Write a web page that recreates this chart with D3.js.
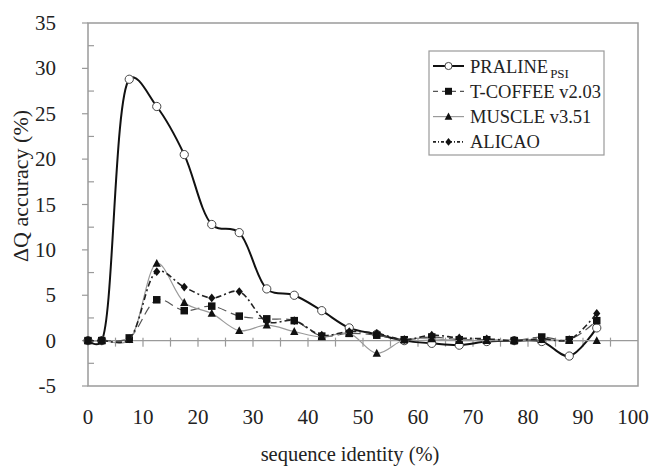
<!DOCTYPE html>
<html>
  <head>
    <title>Delta Q accuracy vs sequence identity</title>
    <script src="https://d3js.org/d3.v7.min.js" charset="utf-8"></script>
    <style>
      body {
        margin: 0;
        background: #fff;
      }
    </style>
  </head>
  <body>
    <svg></svg>

    <script>
      // sequence identity bins (%)
      const identity = [
        0, 2.5, 7.5, 12.5, 17.5, 22.5, 27.5, 32.5, 37.5, 42.5, 47.5, 52.5,
        57.5, 62.5, 67.5, 72.5, 77.5, 82.5, 87.5, 92.5,
      ];
      const praline = [
        0, 0, 28.8, 25.8, 20.5, 12.8, 11.9, 5.7, 5.0, 3.3, 1.4, 0.7, 0.0,
        -0.3, -0.5, -0.1, 0.0, -0.1, -1.7, 1.4,
      ];
      const tcoffee = [
        0, 0, 0.3, 4.5, 3.3, 3.8, 2.7, 2.4, 2.2, 0.5, 0.8, 0.6, 0.1, 0.4,
        0.1, 0.1, 0.0, 0.4, 0.1, 2.2,
      ];
      const muscle = [
        0, 0, 0.1, 8.5, 4.2, 3.0, 1.1, 1.7, 1.0, 0.4, 0.8, -1.4, 0.1, 0.2,
        0.0, 0.0, 0.0, 0.1, 0.0, 0.0,
      ];
      const alicao = [
        0, 0, 0.2, 7.6, 5.9, 4.7, 5.4, 2.1, 2.2, 0.6, 1.0, 0.8, 0.1, 0.6, 0.3,
        0.2, 0.0, 0.2, 0.1, 3.0,
      ];
      const xTicks = [0, 10, 20, 30, 40, 50, 60, 70, 80, 90, 100];
      const yTicks = [-5, 0, 5, 10, 15, 20, 25, 30, 35];

      const series = [
        { name: "PRALINE", sub: "PSI", values: praline, stroke: "#111", width: 2, dash: null, marker: "circle" },
        { name: "T-COFFEE v2.03", values: tcoffee, stroke: "#555", width: 1.2, dash: "9,5", marker: "square" },
        { name: "MUSCLE v3.51", values: muscle, stroke: "#9a9a9a", width: 1.2, dash: null, marker: "triangle" },
        { name: "ALICAO", values: alicao, stroke: "#222", width: 1.6, dash: "6,3,2,3", marker: "diamond" },
      ];

      const W = 660, H = 468;
      const margin = { top: 23, right: 22, bottom: 82, left: 88 };
      const serif = "'Liberation Serif', 'Times New Roman', 'DejaVu Serif', serif";

      const svg = d3.select("svg").attr("width", W).attr("height", H)
        .attr("font-family", serif);

      const x = d3.scaleLinear().domain([0, 100]).range([margin.left, W - margin.right]);
      const y = d3.scaleLinear().domain([-5, 35]).range([H - margin.bottom, margin.top]);

      const frame = "#9a9a9a";
      const ink = "#222";

      // plot frame
      svg.append("rect")
        .attr("x", x(0)).attr("y", y(35))
        .attr("width", x(100) - x(0)).attr("height", y(-5) - y(35))
        .attr("fill", "none").attr("stroke", frame).attr("stroke-width", 1.5);

      // y ticks: major outside, minor inside
      const yMinor = d3.range(-2.5, 35, 5);
      svg.append("g").selectAll("line").data(yTicks).join("line")
        .attr("x1", x(0) - 6).attr("x2", x(0))
        .attr("y1", (d) => y(d)).attr("y2", (d) => y(d))
        .attr("stroke", frame).attr("stroke-width", 1.2);
      svg.append("g").selectAll("line").data(yMinor).join("line")
        .attr("x1", x(0)).attr("x2", x(0) + 6)
        .attr("y1", (d) => y(d)).attr("y2", (d) => y(d))
        .attr("stroke", frame).attr("stroke-width", 1.2);
      svg.append("g").selectAll("text").data(yTicks).join("text")
        .attr("x", 56).attr("y", (d) => y(d) + 7)
        .attr("text-anchor", "end").attr("font-size", 21)
        .attr("font-family", serif).attr("fill", ink)
        .text((d) => d);

      // zero line with x ticks on it
      svg.append("line")
        .attr("x1", x(0)).attr("x2", x(100))
        .attr("y1", y(0)).attr("y2", y(0))
        .attr("stroke", frame).attr("stroke-width", 1.3);
      svg.append("g").selectAll("line").data(d3.range(5, 100, 5)).join("line")
        .attr("x1", (d) => x(d)).attr("x2", (d) => x(d))
        .attr("y1", y(0) - 3).attr("y2", y(0) + 6)
        .attr("stroke", frame).attr("stroke-width", 1.2);
      svg.append("g").selectAll("text").data(xTicks).join("text")
        .attr("x", (d) => x(d) - (d === 100 ? 5 : 0)).attr("y", 424)
        .attr("text-anchor", "middle").attr("font-size", 21)
        .attr("font-family", serif).attr("fill", ink)
        .text((d) => d);

      // axis titles
      svg.append("text")
        .attr("x", 350).attr("y", 461)
        .attr("text-anchor", "middle").attr("font-size", 20.5)
        .attr("font-family", serif).attr("fill", ink)
        .text("sequence identity (%)");
      svg.append("text")
        .attr("transform", "translate(28, 186) rotate(-90)")
        .attr("text-anchor", "middle").attr("font-size", 22)
        .attr("font-family", serif).attr("fill", ink)
        .text("\u0394Q accuracy (%)");

      const line = d3.line()
        .x((d) => x(d[0]))
        .y((d) => y(d[1]))
        .curve(d3.curveCatmullRom.alpha(0.35));

      function drawMarker(g, type, cx, cy, s) {
        if (type === "circle") {
          g.append("circle").attr("cx", cx).attr("cy", cy).attr("r", s * 0.55)
            .attr("fill", "#fff").attr("stroke", "#444").attr("stroke-width", 1);
        } else if (type === "square") {
          g.append("rect").attr("x", cx - s / 2).attr("y", cy - s / 2)
            .attr("width", s).attr("height", s).attr("fill", "#111");
        } else if (type === "triangle") {
          g.append("path")
            .attr("d", `M${cx},${cy - s * 0.6}L${cx + s * 0.55},${cy + s * 0.45}L${cx - s * 0.55},${cy + s * 0.45}Z`)
            .attr("fill", "#111");
        } else {
          g.append("path")
            .attr("d", `M${cx},${cy - s * 0.55}L${cx + s * 0.45},${cy}L${cx},${cy + s * 0.55}L${cx - s * 0.45},${cy}Z`)
            .attr("fill", "#111");
        }
      }

      const plot = svg.append("g");
      series.forEach((s) => {
        const pts = identity.map((v, i) => [v, s.values[i]]);
        plot.append("path")
          .datum(pts)
          .attr("fill", "none")
          .attr("stroke", s.stroke)
          .attr("stroke-width", s.width)
          .attr("stroke-dasharray", s.dash)
          .attr("d", line);
        const mg = plot.append("g");
        pts.forEach((p) => drawMarker(mg, s.marker, x(p[0]), y(p[1]), s.marker === "diamond" ? 8 : 7.5));
      });

      // legend
      const legend = svg.append("g");
      legend.append("rect")
        .attr("x", 429).attr("y", 51).attr("width", 175).attr("height", 104)
        .attr("fill", "#fff").attr("stroke", frame).attr("stroke-width", 1.2);

      series.forEach((s, i) => {
        const ly = 66 + i * 25.3;
        legend.append("line")
          .attr("x1", 433).attr("x2", 464).attr("y1", ly).attr("y2", ly)
          .attr("stroke", s.stroke).attr("stroke-width", s.width)
          .attr("stroke-dasharray", s.dash ? (s.marker === "square" ? "5,4" : "3,2,1,2") : null);
        drawMarker(legend, s.marker, 448.5, ly, s.marker === "circle" ? 6.5 : 7);
        const t = legend.append("text")
          .attr("x", 470).attr("y", ly + 6.5)
          .attr("font-size", 18.5)
          .attr("font-family", serif).attr("fill", ink)
          .text(s.name);
        if (s.sub) {
          t.append("tspan").attr("dx", 2).attr("dy", 5).attr("font-size", 13).text(s.sub);
        }
      });
    </script>
  </body>
</html>
